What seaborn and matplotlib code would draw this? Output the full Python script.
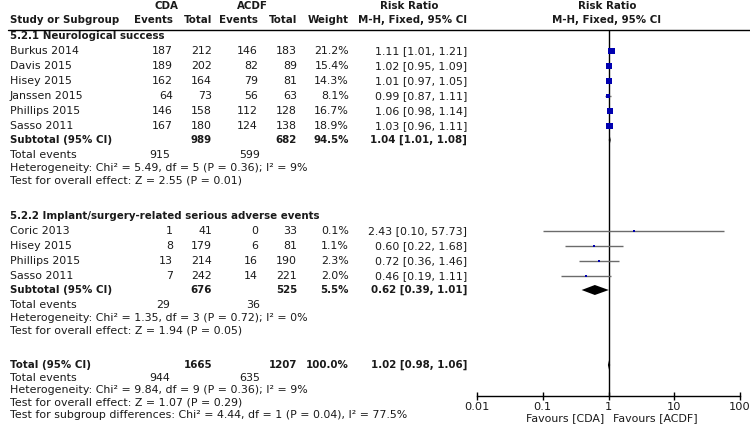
import numpy as np
import pandas as pd
import matplotlib.pyplot as plt
import seaborn as sns

# data
g1_studies = ["Burkus 2014", "Davis 2015", "Hisey 2015", "Janssen 2015", "Phillips 2015", "Sasso 2011"]
g1_cda_ev = [187, 189, 162, 64, 146, 167]
g1_cda_n = [212, 202, 164, 73, 158, 180]
g1_acdf_ev = [146, 82, 79, 56, 112, 124]
g1_acdf_n = [183, 89, 81, 63, 128, 138]
g1_weight = [21.2, 15.4, 14.3, 8.1, 16.7, 18.9]
g1_rr = [1.11, 1.02, 1.01, 0.99, 1.06, 1.03]
g1_lo = [1.01, 0.95, 0.97, 0.87, 0.98, 0.96]
g1_hi = [1.21, 1.09, 1.05, 1.11, 1.14, 1.11]

g2_studies = ["Coric 2013", "Hisey 2015", "Phillips 2015", "Sasso 2011"]
g2_cda_ev = [1, 8, 13, 7]
g2_cda_n = [41, 179, 214, 242]
g2_acdf_ev = [0, 6, 16, 14]
g2_acdf_n = [33, 81, 190, 221]
g2_weight = [0.1, 1.1, 2.3, 2.0]
g2_rr = [2.43, 0.60, 0.72, 0.46]
g2_lo = [0.10, 0.22, 0.36, 0.19]
g2_hi = [57.73, 1.68, 1.46, 1.11]

group_titles = ["5.2.1 Neurological success", "5.2.2 Implant/surgery-related serious adverse events"]
sub_n = [(989, 682, 94.5), (676, 525, 5.5)]
sub_rr = [1.04, 0.62]
sub_lo = [1.01, 0.39]
sub_hi = [1.08, 1.01]
sub_events = [(915, 599), (29, 36)]
sub_het = ["Heterogeneity: Chi² = 5.49, df = 5 (P = 0.36); I² = 9%",
           "Heterogeneity: Chi² = 1.35, df = 3 (P = 0.72); I² = 0%"]
sub_z = ["Test for overall effect: Z = 2.55 (P = 0.01)",
         "Test for overall effect: Z = 1.94 (P = 0.05)"]

tot_n = (1665, 1207, 100.0)
tot_rr, tot_lo, tot_hi = 1.02, 0.98, 1.06
tot_events = (944, 635)
tot_footer = ["Heterogeneity: Chi² = 9.84, df = 9 (P = 0.36); I² = 9%",
              "Test for overall effect: Z = 1.07 (P = 0.29)",
              "Test for subgroup differences: Chi² = 4.44, df = 1 (P = 0.04), I² = 77.5%"]

ticks = [0.01, 0.1, 1, 10, 100]
tick_labels = ["0.01", "0.1", "1", "10", "100"]

sns.set_theme(style="white")
plt.rcParams["font.family"] = ["DejaVu Sans"]
FS = 7.9      # regular text
FSB = 7.4     # bold text
W, H = 750, 434

fig = plt.figure(figsize=(7.5, 4.34), dpi=100)
tx = fig.add_axes([0, 0, 1, 1])
tx.set_xlim(0, W)
tx.set_ylim(H, 0)
tx.axis("off")

# layout in pixel units
X_NAME = 10
X_CEV, X_CN, X_AEV, X_AN, X_W, X_RR = 173, 212, 258, 297, 349, 467
PITCH, FOOT = 15.0, 12.3


def put(x, y, s, ha="right", bold=False):
    tx.text(x, y, s, ha=ha, va="center", fontsize=FSB if bold else FS,
            fontweight="bold" if bold else "normal", color="#1a1a1a")


# headers
put(166, 6, "CDA", ha="center", bold=True)
put(252, 6, "ACDF", ha="center", bold=True)
put(409, 6, "Risk Ratio", ha="center", bold=True)
put(607, 6, "Risk Ratio", ha="center", bold=True)
put(X_NAME, 20, "Study or Subgroup", ha="left", bold=True)
for x, s in zip([X_CEV, X_CN, X_AEV, X_AN, X_W], ["Events", "Total", "Events", "Total", "Weight"]):
    put(x, 20, s, bold=True)
put(X_RR, 20, "M-H, Fixed, 95% CI", bold=True)
put(607, 20, "M-H, Fixed, 95% CI", ha="center", bold=True)
tx.plot([8, W], [29.5, 29.5], color="black", lw=1)

groups = [
    (g1_studies, g1_cda_ev, g1_cda_n, g1_acdf_ev, g1_acdf_n, g1_weight, g1_rr, g1_lo, g1_hi),
    (g2_studies, g2_cda_ev, g2_cda_n, g2_acdf_ev, g2_acdf_n, g2_weight, g2_rr, g2_lo, g2_hi),
]
group_top = [36, 216]

rows = []
diamonds = []
for gi, g in enumerate(groups):
    names, cev, cn, aev, an, w, rr, lo, hi = g
    y = group_top[gi]
    put(X_NAME, y, group_titles[gi], ha="left", bold=True)
    for i in range(len(names)):
        y += PITCH
        put(X_NAME, y, names[i], ha="left")
        put(X_CEV, y, str(cev[i]))
        put(X_CN, y, str(cn[i]))
        put(X_AEV, y, str(aev[i]))
        put(X_AN, y, str(an[i]))
        put(X_W, y, f"{w[i]:.1f}%")
        put(X_RR, y, f"{rr[i]:.2f} [{lo[i]:.2f}, {hi[i]:.2f}]")
        rows.append(dict(y=y, rr=rr[i], lo=lo[i], hi=hi[i], w=w[i]))
    y += 14
    put(X_NAME, y, "Subtotal (95% CI)", ha="left", bold=True)
    put(X_CN, y, str(sub_n[gi][0]), bold=True)
    put(X_AN, y, str(sub_n[gi][1]), bold=True)
    put(X_W, y, f"{sub_n[gi][2]:.1f}%", bold=True)
    put(X_RR, y, f"{sub_rr[gi]:.2f} [{sub_lo[gi]:.2f}, {sub_hi[gi]:.2f}]", bold=True)
    diamonds.append((y, sub_rr[gi], sub_lo[gi], sub_hi[gi]))
    y += 15.5
    put(X_NAME, y, "Total events", ha="left")
    put(170, y, str(sub_events[gi][0]))
    put(260, y, str(sub_events[gi][1]))
    y += FOOT
    put(X_NAME, y, sub_het[gi], ha="left")
    y += FOOT
    put(X_NAME, y, sub_z[gi], ha="left")

# overall
y = 365
put(X_NAME, y, "Total (95% CI)", ha="left", bold=True)
put(X_CN, y, str(tot_n[0]), bold=True)
put(X_AN, y, str(tot_n[1]), bold=True)
put(X_W, y, f"{tot_n[2]:.1f}%", bold=True)
put(X_RR, y, f"{tot_rr:.2f} [{tot_lo:.2f}, {tot_hi:.2f}]", bold=True)
diamonds.append((y, tot_rr, tot_lo, tot_hi))
y += 13
put(X_NAME, y, "Total events", ha="left")
put(170, y, str(tot_events[0]))
put(260, y, str(tot_events[1]))
for s in tot_footer:
    y += FOOT
    put(X_NAME, y, s, ha="left")

# forest panel
AX_L, AX_R, AX_T, AX_B = 477, 740, 29.5, 396
ax = fig.add_axes([AX_L / W, 1 - AX_B / H, (AX_R - AX_L) / W, (AX_B - AX_T) / H])
ax.patch.set_alpha(0)
ax.set_xscale("log")
ax.set_xlim(ticks[0], ticks[-1])
ax.set_ylim(AX_B, AX_T)
for side in ["left", "top", "right"]:
    ax.spines[side].set_visible(False)
ax.spines["bottom"].set_color("black")
ax.spines["bottom"].set_linewidth(1)
ax.set_xticks(ticks)
ax.set_xticklabels(tick_labels, fontsize=FS + 0.3, color="#1a1a1a")
ax.xaxis.set_minor_locator(plt.NullLocator())
ax.tick_params(axis="x", direction="inout", length=6, width=1, color="black", pad=1, bottom=True)
ax.set_yticks([])
ax.axvline(1, color="black", lw=1)

df = pd.DataFrame(rows)
ax.hlines(df["y"], df["lo"], df["hi"], color="#6b6b6b", lw=1)
df["size"] = np.maximum(df["w"] * 1.1, 1.5)
sns.scatterplot(data=df, x="rr", y="y", size="size", sizes=(df["size"].min(), df["size"].max()),
                marker="s", color="#0000b0", edgecolor="none", legend=False, ax=ax, zorder=3)
ax.set_xlabel("")
ax.set_ylabel("")

for (yd, est, lo, hi) in diamonds:
    ax.fill([lo, est, hi, est], [yd, yd - 5, yd, yd + 5], color="black", lw=0, zorder=4)

put(604, 418, "Favours [CDA]")
put(613, 418, "Favours [ACDF]", ha="left")

fig.savefig("out.png", dpi=100)
